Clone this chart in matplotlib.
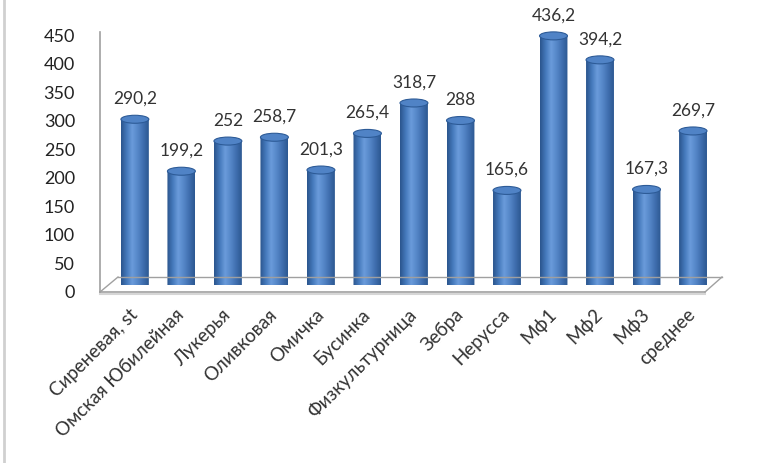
import numpy as np
import matplotlib.pyplot as plt
from matplotlib.colors import LinearSegmentedColormap
from matplotlib.patches import Ellipse, PathPatch
from matplotlib.path import Path
from matplotlib.lines import Line2D
from matplotlib.transforms import ScaledTranslation

plt.rcParams['font.family'] = ['Lato', 'DejaVu Sans']

# data
categories = ['Сиреневая, st', 'Омская Юбилейная', 'Лукерья', 'Оливковая', 'Омичка',
              'Бусинка', 'Физкультурница', 'Зебра', 'Нерусса', 'Мф1', 'Мф2', 'Мф3', 'среднее']
values = [290.2, 199.2, 252, 258.7, 201.3, 265.4, 318.7, 288, 165.6, 436.2, 394.2, 167.3, 269.7]
labels = ['290,2', '199,2', '252', '258,7', '201,3', '265,4', '318,7', '288', '165,6',
          '436,2', '394,2', '167,3', '269,7']

W, H = 772, 463
fig = plt.figure(figsize=(W / 100, H / 100), dpi=100)
ax = fig.add_axes([100 / W, 1 - 285 / H, 620 / W, 257 / H])

x = np.arange(len(values))
bw = 0.6
ell_h = 14  # ellipse height in data units

cmap = LinearSegmentedColormap.from_list(
    'cyl', ['#2a548c', '#4478ba', '#6a9bdb', '#5587c8', '#3f6eae', '#2c5891'])
grad = np.linspace(0, 1, 256).reshape(1, -1)

bars = ax.bar(x, values, width=bw, color='none', edgecolor='none')
for rect in bars:
    x0, w, h = rect.get_x(), rect.get_width(), rect.get_height()
    cx = x0 + w / 2
    # outline: left side up, right side down, bottom half ellipse
    t = np.linspace(np.pi, 2 * np.pi, 40)
    bottom = np.column_stack([cx + w / 2 * np.cos(t), ell_h / 2 * np.sin(t)])
    verts = np.vstack([[[x0, 0], [x0, h], [x0 + w, h], [x0 + w, 0]], bottom[::-1], [[x0, 0]]])
    clip = PathPatch(Path(verts, closed=True), facecolor='none', edgecolor='none',
                     transform=ax.transData)
    ax.add_patch(clip)
    im = ax.imshow(grad, cmap=cmap, aspect='auto', extent=[x0, x0 + w, -ell_h / 2, h],
                   zorder=2, interpolation='bilinear')
    im.set_clip_path(clip)
    ax.add_patch(Ellipse((cx, h), w, ell_h, facecolor='#5083c6', edgecolor='#2d5b97',
                         linewidth=0.8, zorder=3))

for xi, v, lab in zip(x, values, labels):
    ax.annotate(lab, (xi, v), xytext=(0, 9), textcoords='offset points',
                ha='center', va='bottom', fontsize=12.5, color='#333333')

ax.set_xlim(-0.75, 12.58)
ax.set_ylim(0, 450)
ax.set_yticks(np.arange(0, 451, 50))
ax.tick_params(axis='y', length=0, pad=18, labelsize=13, labelcolor='#222222')
ax.tick_params(axis='x', length=0, pad=15, labelsize=13.5, labelcolor='#333333')
for lab in ax.get_yticklabels():
    lab.set_transform(lab.get_transform() + ScaledTranslation(0, -0.07, fig.dpi_scale_trans))
ax.set_xticks(x)
ax.set_xticklabels(categories, rotation=45, ha='right', rotation_mode='anchor')
for lab in ax.get_xticklabels():
    lab.set_transform(lab.get_transform() + ScaledTranslation(-0.06, 0, fig.dpi_scale_trans))
for s in ax.spines.values():
    s.set_visible(False)
ax.set_facecolor('none')


def px(a, b):
    return a / W, 1 - b / H


def fline(p, q, **kw):
    (x1, y1), (x2, y2) = px(*p), px(*q)
    fig.add_artist(Line2D([x1, x2], [y1, y2], **kw))


gray = '#a0a0a0'
fline((100, 32), (100, 292), color=gray, lw=1.2)
fline((100, 292), (705, 292), color=gray, lw=1.2)
fline((100, 293.5), (705, 293.5), color='#d6d6d6', lw=1.5)
fline((118, 277), (722, 277), color=gray, lw=1.0)
fline((100, 292), (118, 277), color=gray, lw=1.0)
fline((705, 292), (722, 277), color=gray, lw=1.0)
fline((4, 0), (4, 463), color='#d0d0d0', lw=2)

fig.savefig('out.png', dpi=100)
